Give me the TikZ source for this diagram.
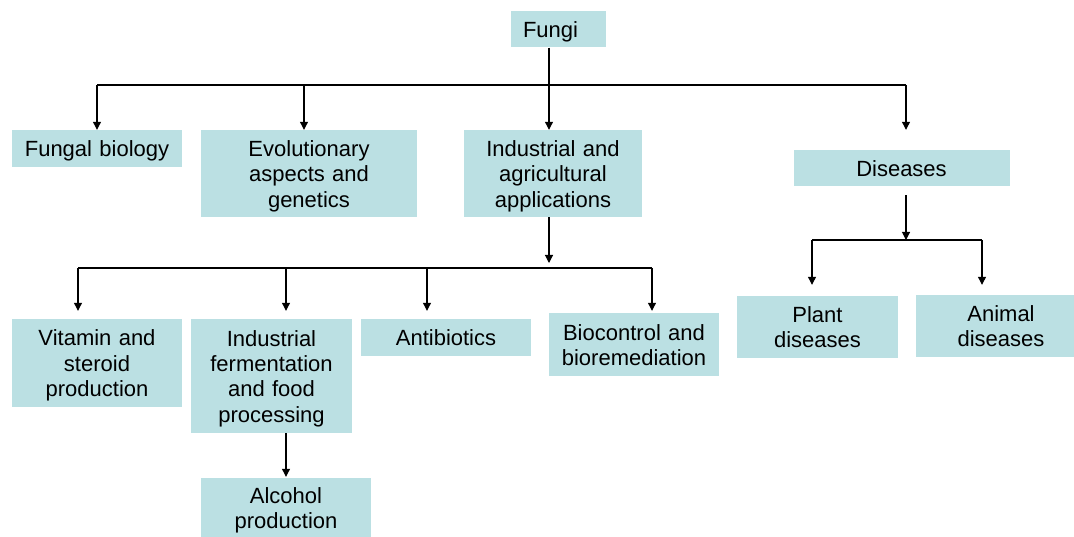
\documentclass[tikz,border=0pt]{standalone}
\usepackage{fontspec}
\setmainfont{Liberation Sans}
\usetikzlibrary{arrows.meta}
\definecolor{boxfill}{RGB}{187,224,227}

\begin{document}
\begin{tikzpicture}[x = 1pt, y = -1pt,
		box/.style = {fill = boxfill, inner sep = 0pt, align = center, font = \fontsize{22}{25.3}\selectfont,
			execute at begin node = {\rule{0pt}{21.3pt}}, execute at end node = {\rule[-4.7pt]{0pt}{0pt}}},
		link/.style = {line width = 1.1pt, black},
		arr/.style = {link, -{Triangle[width = 8pt, length = 8pt]}}]
			\useasboundingbox (0, 0) rectangle (1074, 537);
			% boxes
			\node[box, align = left, text width = 71, inner xsep = 12, minimum height = 36] (fungi) at (558.5, 29.5) {Fungi};
			\node[box, text width = 170, minimum height = 37] (fbio) at (97, 148.5) {Fungal biology};
			\node[box, text width = 216, minimum height = 87] (evol) at (309, 173.5) {Evolutionary\\aspects and\\genetics};
			\node[box, text width = 178, minimum height = 87] (indag) at (553, 173.5) {Industrial and\\agricultural\\applications};
			\node[box, text width = 216, minimum height = 36] (dis) at (901.5, 168) {Diseases};
			\node[box, text width = 161, minimum height = 62] (plant) at (817.5, 327) {Plant\\diseases};
			\node[box, text width = 170, minimum height = 62] (animal) at (1001, 326) {Animal\\diseases};
			\node[box, text width = 170, minimum height = 88] (vit) at (97, 363) {Vitamin and\\steroid\\production};
			\node[box, text width = 161, minimum height = 114] (ferm) at (271.5, 376) {Industrial\\fermentation\\and food\\processing};
			\node[box, text width = 170, minimum height = 37] (anti) at (446, 337.5) {Antibiotics};
			\node[box, text width = 170, minimum height = 63] (bioc) at (634, 344.5) {Biocontrol and\\bioremediation};
			\node[box, text width = 170, minimum height = 59] (alc) at (286, 507.5) {Alcohol\\production};
			% first level
			\coordinate (t1) at (97, 85);
			\coordinate (t2) at (304, 85);
			\coordinate (t3) at (549, 85);
			\coordinate (t4) at (906, 85);
			\draw[link] (t1) -- (t4);
			\draw[arr] (fungi.south -| t3) -- (t3 |- indag.north);
			\draw[arr] (t1) -- (t1 |- fbio.north);
			\draw[arr] (t2) -- (t2 |- evol.north);
			\draw[arr, shorten >= 20] (t4) -- (t4 |- dis.north);
			% applications
			\coordinate (m0) at (549, 268);
			\coordinate (m1) at (78, 268);
			\coordinate (m2) at (286, 268);
			\coordinate (m3) at (427, 268);
			\coordinate (m4) at (652, 268);
			\draw[arr, shorten >= 5] (indag.south -| m0) -- (m0);
			\draw[link] (m1) -- (m4);
			\draw[arr, shorten >= 8] (m1) -- (m1 |- vit.north);
			\draw[arr, shorten >= 8] (m2) -- (m2 |- ferm.north);
			\draw[arr, shorten >= 8] (m3) -- (m3 |- anti.north);
			\draw[arr, shorten >= 2] (m4) -- (m4 |- bioc.north);
			\draw[arr, shorten >= 1] (ferm.south -| m2) -- (m2 |- alc.north);
			% diseases
			\coordinate (d0) at (906, 240);
			\coordinate (d1) at (812, 240);
			\coordinate (d2) at (982, 240);
			\draw[arr, shorten <= 9] (dis.south -| d0) -- (d0);
			\draw[link] (d1) -- (d2);
			\draw[arr, shorten >= 11] (d1) -- (d1 |- plant.north);
			\draw[arr, shorten >= 10] (d2) -- (d2 |- animal.north);
		\end{tikzpicture}
\end{document}
